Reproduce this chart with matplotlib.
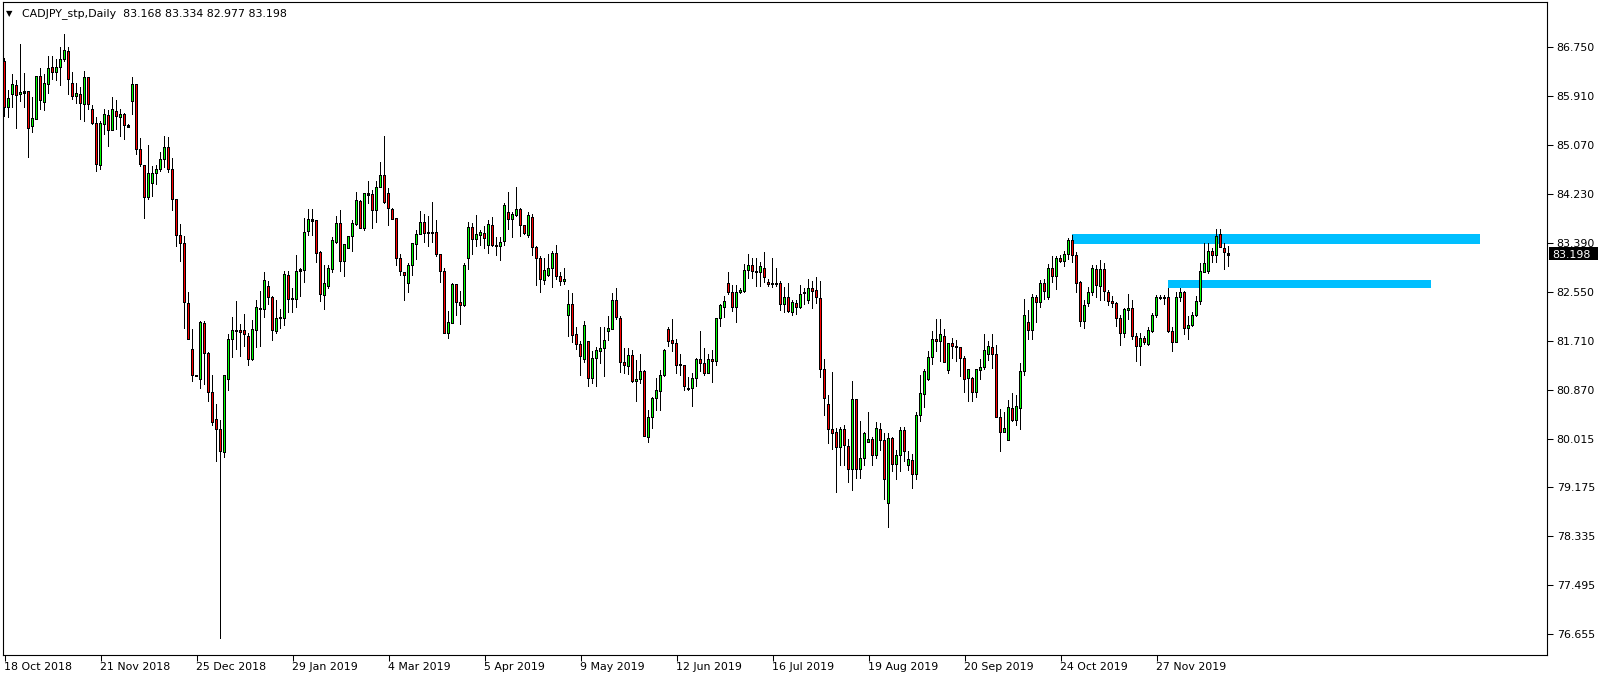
import numpy as np
import matplotlib
matplotlib.use("Agg")
import matplotlib.pyplot as plt
from matplotlib.patches import Rectangle
from matplotlib.transforms import blended_transform_factory

plt.rcParams['font.family'] = ['DejaVu Sans']

# ---------------- data (daily candles, CADJPY) ----------------
opens = [
    86.50, 85.71, 85.94, 86.09, 85.93, 85.98, 85.98, 85.38, 85.51, 86.25,
    85.80, 86.10, 86.40, 86.32, 86.40, 86.54, 86.68, 86.13, 85.90, 85.94,
    85.77, 86.22, 85.67, 85.44, 84.72, 85.42, 85.58, 85.31, 85.65, 85.54,
    85.59, 85.40, 85.81, 86.10, 84.99, 84.72, 84.16, 84.41, 84.57, 84.64,
    84.81, 85.03, 84.65, 84.13, 83.51, 83.38, 82.34, 81.55, 81.11, 81.04,
    82.00, 81.48, 80.81, 80.35, 80.17, 79.78, 81.04, 81.73, 81.86, 81.88,
    81.88, 81.77, 81.37, 81.88, 82.26, 82.24, 82.64, 82.45, 81.86, 82.09,
    82.09, 82.83, 82.41, 82.41, 82.89, 82.91, 83.58, 83.78, 83.76, 83.22,
    82.48, 82.63, 82.93, 83.39, 83.72, 83.06, 83.29, 83.49, 83.70, 84.10,
    83.63, 84.23, 84.21, 83.94, 84.34, 84.55, 84.23, 83.96, 83.80, 83.12,
    82.88, 82.69, 82.99, 83.36, 83.53, 83.74, 83.57, 83.57, 83.57, 83.18,
    82.90, 81.82, 82.00, 82.66, 82.36, 82.31, 83.12, 83.65, 83.45, 83.51,
    83.55, 83.34, 83.69, 83.34, 83.32, 83.40, 83.91, 83.78, 83.85, 83.96,
    83.69, 83.51, 83.82, 83.31, 83.12, 82.73, 82.82, 82.95, 83.20, 82.80,
    82.72, 82.13, 82.32, 81.80, 81.63, 81.38, 81.69, 81.06, 81.39, 81.51,
    81.57, 81.86, 81.90, 82.40, 82.09, 81.33, 81.26, 81.44, 81.00, 81.03,
    81.18, 80.04, 80.38, 80.71, 80.83, 81.10, 81.90, 81.70, 81.66, 81.30,
    81.27, 80.88, 80.88, 81.06, 81.37, 81.31, 81.14, 81.38, 81.35, 82.09,
    82.28, 82.69, 82.53, 82.28, 82.53, 82.55, 82.91, 83.00, 82.90, 82.88,
    82.95, 82.71, 82.69, 82.68, 82.69, 82.33, 82.45, 82.19, 82.34, 82.27,
    82.51, 82.39, 82.60, 82.56, 82.43, 81.21, 80.60, 80.17, 80.13, 79.87,
    80.17, 79.89, 79.49, 80.69, 79.49, 79.68, 79.95, 80.01, 79.72, 80.18,
    79.98, 78.91, 80.02, 79.58, 79.72, 80.15, 79.55, 79.65, 79.40, 80.42,
    80.78, 81.03, 81.42, 81.73, 81.69, 81.78, 81.19, 81.65, 81.61, 81.59,
    81.40, 81.06, 81.06, 80.81, 81.19, 81.24, 81.46, 81.59, 81.47, 80.38,
    80.13, 79.98, 80.54, 80.33, 80.54, 81.17, 82.02, 81.87, 82.45, 82.36,
    82.69, 82.44, 82.95, 82.80, 83.12, 83.06, 83.19, 83.43, 83.17, 82.70,
    82.03, 82.34, 82.53, 82.93, 82.64, 82.93, 82.53, 82.38, 82.34, 82.09,
    81.82, 82.22, 82.26, 81.77, 81.60, 81.74, 81.64, 81.86, 82.13, 82.43,
    82.44, 82.45, 81.86, 81.67, 82.44, 82.53, 81.91, 81.97, 82.13, 82.38,
    82.88, 82.89, 83.23, 83.16, 83.52, 83.29, 83.168,
]
highs = [
    86.56, 86.01, 86.28, 86.18, 86.80, 86.31, 85.99, 85.89, 86.26, 86.39,
    86.28, 86.60, 86.59, 86.54, 86.76, 86.98, 86.76, 86.33, 86.13, 86.07,
    86.34, 86.24, 85.75, 85.54, 85.48, 85.69, 85.67, 85.90, 85.84, 85.68,
    85.61, 85.42, 86.23, 86.11, 85.18, 84.73, 85.07, 84.71, 84.72, 84.95,
    85.22, 85.20, 84.84, 84.13, 83.71, 83.50, 82.54, 81.90, 81.12, 82.04,
    82.04, 81.50, 81.11, 80.61, 80.33, 81.10, 81.82, 82.11, 82.39, 81.99,
    82.16, 81.84, 82.06, 82.40, 82.56, 82.88, 82.73, 82.47, 82.41, 82.25,
    82.90, 82.90, 82.61, 83.18, 82.96, 83.81, 83.96, 83.96, 83.78, 83.24,
    83.00, 83.00, 83.48, 83.85, 83.95, 83.37, 83.50, 83.78, 84.25, 84.12,
    84.24, 84.45, 84.29, 84.44, 84.78, 85.22, 84.32, 83.98, 83.80, 83.19,
    82.89, 83.03, 83.37, 83.61, 83.94, 83.88, 83.85, 84.09, 83.77, 83.19,
    82.95, 82.21, 82.69, 82.67, 82.56, 83.03, 83.75, 83.73, 83.86, 83.61,
    83.67, 83.78, 83.82, 83.49, 83.49, 84.07, 84.25, 83.91, 84.35, 83.99,
    83.69, 83.91, 83.88, 83.33, 83.16, 83.12, 83.19, 83.24, 83.35, 82.89,
    82.96, 82.57, 82.53, 81.93, 81.70, 82.04, 81.70, 81.53, 81.60, 81.93,
    81.94, 82.12, 82.53, 82.60, 82.13, 81.57, 81.57, 81.54, 81.37, 81.48,
    81.20, 80.51, 80.74, 81.06, 81.20, 81.56, 81.94, 82.08, 81.73, 81.48,
    81.28, 81.08, 81.14, 81.40, 81.86, 81.57, 81.47, 81.54, 82.10, 82.34,
    82.47, 82.88, 82.66, 82.66, 82.60, 83.02, 83.19, 83.12, 83.13, 83.06,
    83.22, 82.77, 83.12, 82.95, 82.72, 82.62, 82.69, 82.41, 82.40, 82.66,
    82.60, 82.76, 82.73, 82.80, 82.72, 81.39, 80.77, 81.16, 80.20, 80.22,
    80.25, 80.01, 81.01, 80.69, 80.32, 80.14, 80.47, 80.05, 80.30, 80.29,
    80.12, 80.12, 80.05, 79.82, 80.22, 80.22, 79.81, 79.75, 80.48, 81.11,
    81.22, 81.52, 81.86, 82.07, 82.08, 81.91, 81.67, 81.75, 81.71, 81.60,
    81.43, 81.22, 81.08, 81.21, 81.38, 81.82, 81.70, 81.82, 81.63, 80.52,
    80.48, 80.68, 80.81, 80.76, 81.31, 82.42, 82.23, 82.51, 82.48, 82.75,
    82.76, 83.02, 83.15, 83.15, 83.18, 83.24, 83.46, 83.52, 83.22, 82.72,
    82.40, 82.63, 83.00, 83.00, 83.09, 83.04, 82.57, 82.47, 82.36, 82.14,
    82.27, 82.50, 82.41, 81.83, 81.83, 81.78, 81.93, 82.17, 82.49, 82.48,
    82.49, 82.60, 81.94, 82.54, 82.60, 82.55, 82.13, 82.20, 82.47, 83.04,
    83.38, 83.38, 83.29, 83.62, 83.62, 83.39, 83.334,
]
lows = [
    85.55, 85.53, 85.70, 85.35, 85.81, 85.71, 84.84, 85.27, 85.50, 85.66,
    85.65, 85.94, 86.18, 86.16, 86.08, 86.50, 85.93, 85.84, 85.78, 85.50,
    85.47, 85.67, 85.41, 84.60, 84.63, 85.23, 85.04, 85.30, 85.33, 85.21,
    85.15, 85.36, 85.58, 84.89, 84.69, 83.79, 84.12, 84.18, 84.38, 84.61,
    84.67, 84.59, 83.94, 83.32, 83.06, 81.91, 81.71, 81.00, 81.08, 80.87,
    80.94, 80.64, 80.24, 79.62, 76.58, 79.68, 80.83, 81.40, 81.54, 81.42,
    81.60, 81.26, 81.36, 81.57, 81.59, 82.09, 82.32, 81.70, 81.82, 81.91,
    81.96, 82.18, 82.17, 82.26, 82.46, 82.70, 83.50, 83.50, 83.04, 82.37,
    82.23, 82.59, 82.87, 83.37, 82.89, 82.79, 83.27, 83.22, 83.68, 83.63,
    83.58, 84.05, 83.62, 83.73, 84.32, 84.06, 83.68, 83.78, 82.98, 82.82,
    82.39, 82.53, 82.82, 83.09, 83.52, 83.38, 83.32, 83.38, 83.14, 82.70,
    81.82, 81.73, 82.00, 82.12, 81.97, 82.28, 82.92, 83.18, 83.32, 83.33,
    83.27, 83.20, 83.31, 83.15, 83.08, 83.33, 83.60, 83.46, 83.83, 83.49,
    83.52, 83.47, 83.16, 82.64, 82.53, 82.66, 82.80, 82.60, 82.75, 82.65,
    82.66, 81.76, 81.66, 81.54, 81.10, 81.31, 80.90, 80.95, 80.90, 81.30,
    81.07, 81.70, 81.88, 82.05, 81.14, 81.13, 81.11, 80.97, 80.64, 80.96,
    80.05, 79.95, 80.18, 80.49, 80.50, 81.08, 81.59, 81.50, 81.13, 81.10,
    80.83, 80.84, 80.56, 80.90, 81.17, 81.10, 81.13, 80.97, 81.26, 81.94,
    82.10, 82.48, 82.20, 82.00, 82.50, 82.52, 82.77, 82.76, 82.63, 82.62,
    82.70, 82.63, 82.61, 82.62, 82.22, 82.17, 82.18, 82.12, 82.14, 82.24,
    82.32, 82.34, 82.25, 82.33, 81.06, 80.41, 79.93, 79.83, 79.08, 79.54,
    79.54, 79.25, 79.11, 79.32, 79.32, 79.55, 79.94, 79.55, 79.67, 79.81,
    78.97, 78.48, 79.45, 79.30, 79.45, 79.62, 79.46, 79.16, 79.31, 80.31,
    80.55, 81.01, 81.28, 81.50, 81.34, 81.31, 81.13, 81.38, 81.34, 81.08,
    80.80, 80.64, 80.64, 80.71, 81.03, 81.19, 81.36, 81.21, 80.38, 79.79,
    80.11, 79.98, 80.31, 80.24, 80.17, 81.10, 81.72, 81.72, 82.01, 82.26,
    82.41, 82.40, 82.69, 82.58, 83.03, 82.97, 83.09, 83.04, 82.52, 81.93,
    81.90, 82.28, 82.47, 82.43, 82.39, 82.39, 82.30, 82.27, 81.94, 81.61,
    81.74, 82.06, 81.72, 81.34, 81.27, 81.63, 81.61, 81.84, 82.09, 82.41,
    82.32, 81.84, 81.51, 81.66, 82.37, 81.80, 81.72, 81.93, 82.11, 82.31,
    82.86, 82.84, 83.03, 83.04, 83.29, 82.91, 82.977,
]
closes = [
    85.71, 85.87, 86.11, 85.92, 85.97, 85.95, 85.35, 85.53, 86.25, 85.83,
    86.12, 86.39, 86.32, 86.40, 86.53, 86.70, 86.20, 85.90, 85.95, 85.78,
    86.22, 85.77, 85.44, 84.73, 85.43, 85.59, 85.31, 85.68, 85.55, 85.59,
    85.40, 85.37, 86.10, 84.99, 84.73, 84.16, 84.57, 84.57, 84.65, 84.82,
    85.03, 84.65, 84.13, 83.51, 83.38, 82.35, 81.73, 81.10, 81.09, 82.02,
    81.48, 80.81, 80.29, 80.17, 79.79, 81.10, 81.73, 81.88, 81.88, 81.84,
    81.80, 81.38, 81.90, 82.28, 82.24, 82.73, 82.45, 81.87, 82.09, 82.08,
    82.84, 82.41, 82.41, 82.90, 82.92, 83.57, 83.79, 83.75, 83.20, 82.49,
    82.68, 82.95, 83.43, 83.72, 83.06, 83.35, 83.50, 83.71, 84.12, 83.63,
    84.23, 84.20, 83.94, 84.34, 84.55, 84.08, 83.98, 83.79, 83.12, 82.89,
    82.82, 83.00, 83.37, 83.53, 83.74, 83.55, 83.55, 83.55, 83.18, 82.90,
    81.83, 82.02, 82.66, 82.36, 82.31, 82.99, 83.65, 83.45, 83.52, 83.57,
    83.46, 83.70, 83.33, 83.32, 83.39, 84.03, 83.78, 83.88, 83.96, 83.69,
    83.55, 83.85, 83.31, 83.12, 82.76, 82.91, 82.95, 83.20, 82.80, 82.72,
    82.76, 82.32, 81.79, 81.64, 81.43, 81.96, 81.06, 81.40, 81.53, 81.57,
    81.70, 81.92, 82.40, 82.10, 81.32, 81.27, 81.44, 81.00, 81.04, 81.18,
    80.06, 80.38, 80.71, 80.84, 81.11, 81.53, 81.69, 81.65, 81.28, 81.27,
    80.91, 80.87, 81.06, 81.37, 81.31, 81.14, 81.38, 81.34, 82.09, 82.30,
    82.38, 82.53, 82.28, 82.53, 82.57, 82.91, 83.00, 82.90, 82.88, 82.98,
    82.79, 82.67, 82.67, 82.67, 82.33, 82.45, 82.20, 82.36, 82.27, 82.50,
    82.52, 82.60, 82.55, 82.45, 81.20, 80.71, 80.17, 80.11, 79.87, 80.17,
    79.90, 79.49, 80.69, 79.49, 79.68, 80.10, 80.01, 79.72, 80.19, 79.98,
    79.32, 80.02, 79.58, 79.72, 80.15, 79.79, 79.66, 79.40, 80.42, 80.80,
    81.18, 81.42, 81.73, 81.69, 81.80, 81.32, 81.65, 81.60, 81.58, 81.40,
    81.04, 81.20, 80.81, 81.20, 81.24, 81.53, 81.60, 81.46, 80.38, 80.13,
    80.20, 80.56, 80.33, 80.57, 81.18, 82.13, 81.87, 82.45, 82.36, 82.69,
    82.54, 82.95, 82.80, 83.12, 83.06, 83.19, 83.43, 83.16, 82.69, 82.03,
    82.30, 82.53, 82.95, 82.65, 82.93, 82.55, 82.37, 82.34, 82.09, 81.82,
    82.23, 82.26, 81.77, 81.60, 81.74, 81.67, 81.87, 82.14, 82.45, 82.44,
    82.43, 81.86, 81.67, 82.45, 82.53, 81.91, 81.97, 82.14, 82.38, 82.89,
    83.03, 83.23, 83.16, 83.50, 83.31, 83.21, 83.198,
]

date_labels = ['18 Oct 2018', '21 Nov 2018', '25 Dec 2018', '29 Jan 2019',
               '4 Mar 2019', '5 Apr 2019', '9 May 2019', '12 Jun 2019',
               '16 Jul 2019', '19 Aug 2019', '20 Sep 2019', '24 Oct 2019',
               '27 Nov 2019']
bars_per_date_label = 24

price_labels = ['86.750', '85.910', '85.070', '84.230', '83.390', '82.550',
                '81.710', '80.870', '80.015', '79.175', '78.335', '77.495',
                '76.655']

# supply / resistance zones (price bands)
zone_top = [83.536, 82.745]
zone_bottom = [83.364, 82.610]
zone_from_bar = [266.9, 290.75]
zone_to_bar = [368.75, 356.7]

title_text = "CADJPY_stp,Daily  83.168 83.334 82.977 83.198"
last_price = 83.198

# ---------------- figure ----------------
W, H = 1604, 678
fig = plt.figure(figsize=(W / 100, H / 100), dpi=100)
fig.patch.set_facecolor('white')
ax_left, ax_right, ax_top, ax_bottom = 2.7, 1547.0, 1.5, 654.5
ax = fig.add_axes([ax_left / W, 1 - ax_bottom / H,
                   (ax_right - ax_left) / W, (ax_bottom - ax_top) / H])
ax.set_facecolor('white')
px_per_bar = 4.0
ax.set_xlim((ax_left - 4.5) / px_per_bar, (ax_right - 4.5) / px_per_bar)
ax.set_ylim(76.306, 87.534)

o = np.array(opens)
h = np.array(highs)
l = np.array(lows)
c = np.array(closes)
x = np.arange(len(o))

data_per_px = (ax.get_ylim()[1] - ax.get_ylim()[0]) / (ax_bottom - ax_top)
bar_px = 1.0 / px_per_bar  # one pixel in bar units

bull_color = '#00ff00'
bear_color = '#ff0000'
face = np.where(c >= o, bull_color, bear_color)

# zones behind candles
for zt, zb, zf, ze in zip(zone_top, zone_bottom, zone_from_bar, zone_to_bar):
    ax.add_patch(Rectangle((zf, zb), ze - zf, zt - zb, facecolor='#00bfff',
                           edgecolor='none', zorder=1, antialiased=False))

# wicks
ax.bar(x, h - l, bottom=l, width=1 * bar_px, color='black', linewidth=0,
       zorder=2, antialiased=False)
# body outline (black, 3 px wide)
body_low = np.minimum(o, c)
body_h = np.maximum(np.abs(c - o), data_per_px)
ax.bar(x, body_h + data_per_px, bottom=body_low - data_per_px / 2,
       width=3 * bar_px, color='black', linewidth=0, zorder=3,
       antialiased=False)
# body fill (1 px wide interior)
inner_h = body_h - data_per_px
mask = inner_h > data_per_px * 0.8
ax.bar(x[mask], inner_h[mask], bottom=body_low[mask] + data_per_px / 2,
       width=1 * bar_px, color=face[mask], linewidth=0, zorder=4,
       antialiased=False)

for s in ax.spines.values():
    s.set_color('black')
    s.set_linewidth(0.8)

font_size = 7.9
ax.set_xticks(np.arange(len(date_labels)) * bars_per_date_label)
ax.set_xticklabels(date_labels, ha='left', fontsize=font_size)
ax.tick_params(axis='x', direction='out', length=4, width=0.75, pad=1.5,
               colors='black')

ax.yaxis.tick_right()
ax.set_yticks(np.linspace(86.750, 76.655, len(price_labels)))
ax.set_yticklabels(price_labels, fontsize=font_size)
ax.tick_params(axis='y', direction='out', length=4, width=0.75, pad=3,
               colors='black')

# title inside chart
fig.text(6 / W, 1 - 13.5 / H, '\u25bc', fontsize=6, va='center', ha='left')
fig.text(22 / W, 1 - 13.5 / H, title_text, fontsize=font_size, va='center',
         ha='left')

# current price marker on the price axis
blend = blended_transform_factory(fig.transFigure, ax.transData)
box_h = 12.5 * data_per_px
fig.add_artist(Rectangle((1549 / W, last_price - box_h / 2), 49 / W, box_h,
                         transform=blend, facecolor='black', edgecolor='none',
                         zorder=5))
fig.text(1552 / W, last_price, f'{last_price:.3f}', transform=blend,
         color='white', fontsize=font_size, va='center_baseline', ha='left',
         zorder=6)

fig.savefig('out.png', dpi=100, facecolor='white')
